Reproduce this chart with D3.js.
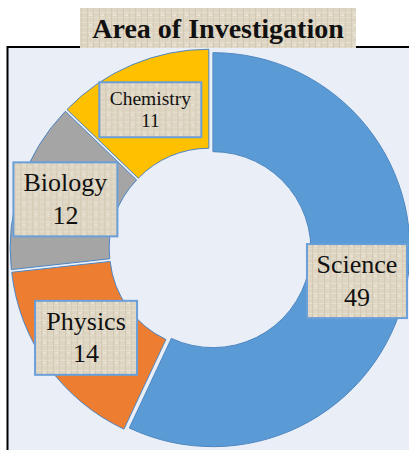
<!DOCTYPE html>
<html>
<head>
<meta charset="utf-8">
<script src="https://cdn.jsdelivr.net/npm/d3@7"></script>
<style>
html,body{margin:0;padding:0;background:#fff;overflow:hidden;}
svg{display:block;}
</style>
</head>
<body>
<svg id="chart" width="409" height="450"></svg>
<script>
// ---- data ----
const title = "Area of Investigation";
const categories = ["Science", "Physics", "Biology", "Chemistry"];
const values = [49, 14, 12, 11];
const colors = ["#5b9bd5", "#ed7d31", "#a5a5a5", "#ffc000"];

// ---- layout ----
const W = 409, H = 450;
const cx = 210, cy = 249;
const outerR = 197, innerR = 98;
const explode = 3;
const serif = "'Liberation Serif','Times New Roman',serif";
// small manual nudges of the data-label boxes (layout only)
const labelNudge = { Science: [3, 0], Physics: [-4, 3], Biology: [-5, -2], Chemistry: [-2, -3.5] };

const svg = d3.select("#chart");
const defs = svg.append("defs");

// parchment-like texture
const pat = defs.append("pattern").attr("id", "tex")
  .attr("patternUnits", "userSpaceOnUse").attr("width", 12).attr("height", 10);
pat.append("rect").attr("width", 12).attr("height", 10).attr("fill", "#ddd4c1");
pat.append("rect").attr("x", 0).attr("y", 2).attr("width", 12).attr("height", 1).attr("fill", "#e7e0d0");
pat.append("rect").attr("x", 0).attr("y", 7).attr("width", 12).attr("height", 1).attr("fill", "#e4ddcc");
pat.append("rect").attr("x", 3).attr("y", 0).attr("width", 1).attr("height", 10).attr("fill", "#d3c8b3");
pat.append("rect").attr("x", 9).attr("y", 0).attr("width", 1).attr("height", 10).attr("fill", "#d6ccb8");
pat.append("rect").attr("x", 5).attr("y", 4).attr("width", 3).attr("height", 2).attr("fill", "#e9e3d6");

// plot frame
svg.append("rect")
  .attr("x", 7.5).attr("y", 47).attr("width", W + 20).attr("height", H + 20)
  .attr("fill", "#e9eef7").attr("stroke", "#000").attr("stroke-width", 2);

// donut
const pie = d3.pie().sort(null).value(d => d.value);
const arcs = pie(categories.map((c, i) => ({ name: c, value: values[i], color: colors[i] })));
const arc = d3.arc().innerRadius(innerR).outerRadius(outerR);
const labelArc = d3.arc().innerRadius((innerR + outerR) / 2).outerRadius((innerR + outerR) / 2);

const g = svg.append("g").attr("transform", `translate(${cx},${cy})`);
g.selectAll("path.slice").data(arcs).join("path")
  .attr("class", "slice")
  .attr("d", arc)
  .attr("transform", d => {
    const a = (d.startAngle + d.endAngle) / 2;
    return `translate(${explode * Math.sin(a)},${-explode * Math.cos(a)})`;
  })
  .attr("fill", d => d.data.color)
  .attr("stroke", "#4f86c2").attr("stroke-width", 1);

// data labels
const lab = g.selectAll("g.lab").data(arcs).join("g")
  .attr("class", "lab")
  .attr("transform", d => {
    const [x, y] = labelArc.centroid(d);
    const n = labelNudge[d.data.name] || [0, 0];
    return `translate(${x + n[0]},${y + n[1]})`;
  });

lab.each(function (d) {
  const sel = d3.select(this);
  const small = d.data.name === "Chemistry";
  const fs = small ? 19.5 : 26;
  const lineGap = small ? 22.5 : 32.5;
  const bw = d.data.name === "Biology" ? 104 : (d.data.name === "Science" ? 100 : 102);
  const bh = small ? 55 : 74;
  sel.append("rect")
    .attr("x", -bw / 2).attr("y", -bh / 2).attr("width", bw).attr("height", bh)
    .attr("fill", "url(#tex)").attr("stroke", "#6a9fd8").attr("stroke-width", 2);
  const t = sel.append("text")
    .attr("text-anchor", "middle")
    .attr("font-family", serif).attr("font-size", fs).attr("fill", "#111");
  const first = small ? -bh / 2 + 22.5 : -bh / 2 + 29;
  t.append("tspan").attr("x", 0).attr("y", first).text(d.data.name);
  t.append("tspan").attr("x", 0).attr("y", first + lineGap).text(d.data.value);
});

// title box
const tb = svg.append("g");
tb.append("rect").attr("x", 80).attr("y", 8).attr("width", 276).attr("height", 40)
  .attr("fill", "url(#tex)");
tb.append("text")
  .attr("x", 218).attr("y", 37.5)
  .attr("text-anchor", "middle")
  .attr("font-family", serif).attr("font-weight", "bold").attr("font-size", 28)
  .attr("fill", "#111")
  .text(title);
</script>
</body>
</html>
